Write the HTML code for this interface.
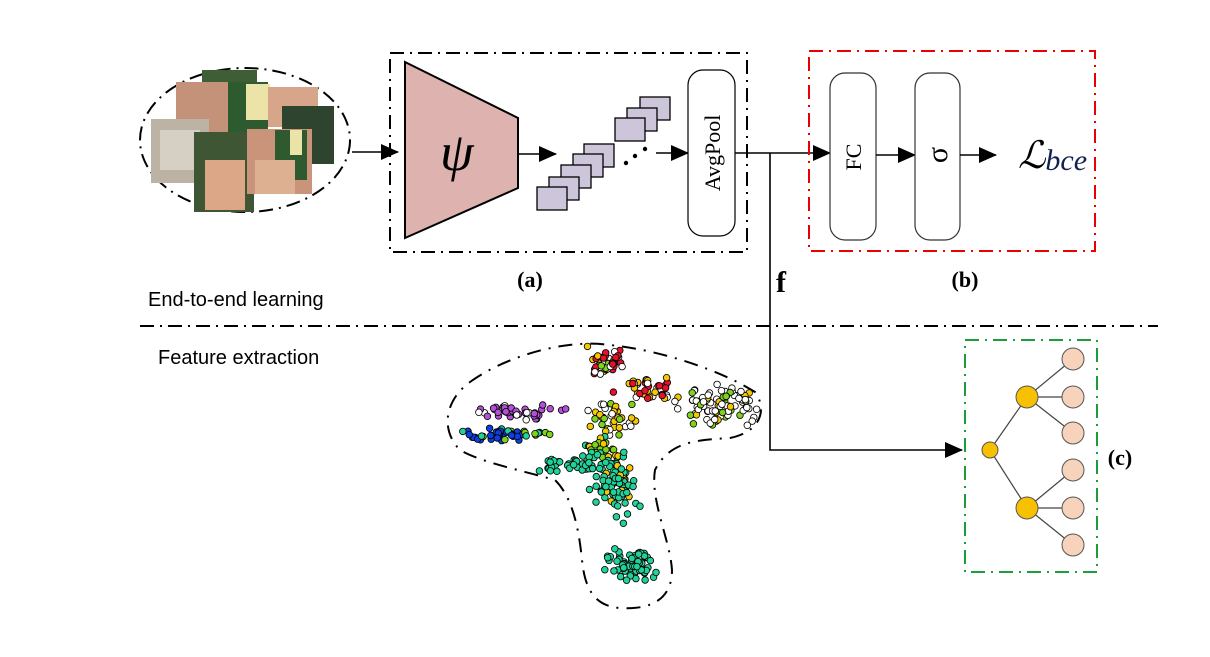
<!DOCTYPE html>
<html><head><meta charset="utf-8"><style>
html,body{margin:0;padding:0;background:#fff;}
svg{display:block;}
.sf{font-family:"Liberation Serif",serif;}
.ss{font-family:"Liberation Sans",sans-serif;}
</style></head><body>
<svg id="s" width="1210" height="657" viewBox="0 0 1210 657" xmlns="http://www.w3.org/2000/svg">
<defs>
<marker id="ar" markerWidth="18" markerHeight="16" refX="17" refY="8" orient="auto" markerUnits="userSpaceOnUse" viewBox="0 0 18 16">
<path d="M0,0 L18,8 L0,16 z" fill="#000"/></marker>
</defs>
<ellipse cx="245" cy="140" rx="105" ry="72" fill="none" stroke="#000" stroke-width="2" stroke-dasharray="14,6,2,6"/>
<rect x="202" y="70" width="55" height="70" fill="#3f5e38"/>
<rect x="176" y="82" width="60" height="55" fill="#c49179"/>
<rect x="228" y="82" width="40" height="50" fill="#2e5a2f"/>
<rect x="246" y="84" width="24" height="36" fill="#ece3a8"/>
<rect x="268" y="87" width="50" height="40" fill="#d6a58a"/>
<rect x="282" y="106" width="52" height="58" fill="#2e442f"/>
<rect x="151" y="119" width="58" height="64" fill="#bcb3a4"/>
<rect x="160" y="130" width="40" height="40" fill="#e0dcd2" opacity="0.7"/>
<rect x="194" y="132" width="60" height="80" fill="#3e5634"/>
<rect x="205" y="160" width="40" height="50" fill="#dba786"/>
<rect x="247" y="129" width="65" height="65" fill="#c9947a"/>
<rect x="275" y="130" width="32" height="50" fill="#2f5a2f"/>
<rect x="290" y="130" width="12" height="25" fill="#ece3a8"/>
<rect x="255" y="160" width="40" height="34" fill="#dcb091"/>
<line x1="352" y1="152" x2="398" y2="152" stroke="#000" stroke-width="1.6" marker-end="url(#ar)"/>
<rect x="390" y="53" width="357" height="199" fill="none" stroke="#000" stroke-width="2" stroke-dasharray="14,6,2,6"/>
<polygon points="405,62 518,118 518,188 405,238" fill="#deb3af" stroke="#000" stroke-width="2"/>
<text class="sf" x="440" y="170" font-size="54" font-style="italic">ψ</text>
<line x1="518" y1="154" x2="556" y2="154" stroke="#000" stroke-width="1.6" marker-end="url(#ar)"/>
<g fill="#cdc5da" stroke="#000" stroke-width="1.3">
<rect x="584" y="144" width="30" height="23"/>
<rect x="573" y="154" width="30" height="23"/>
<rect x="561" y="165" width="30" height="23"/>
<rect x="549" y="177" width="30" height="23"/>
<rect x="537" y="187" width="30" height="23"/>
<rect x="640" y="97" width="30" height="23"/>
<rect x="627" y="108" width="30" height="23"/>
<rect x="615" y="118" width="30" height="23"/>
</g>
<circle cx="626" cy="163" r="2.2"/><circle cx="635" cy="156" r="2.2"/><circle cx="645" cy="149" r="2.2"/>
<line x1="656" y1="153" x2="688" y2="153" stroke="#000" stroke-width="1.6" marker-end="url(#ar)"/>
<rect x="688" y="70" width="47" height="166" rx="15" fill="#fff" stroke="#000" stroke-width="1.2"/>
<text class="sf" transform="translate(720,153) rotate(-90)" font-size="22" text-anchor="middle">AvgPool</text>
<line x1="735" y1="153" x2="830" y2="153" stroke="#000" stroke-width="1.6" marker-end="url(#ar)"/>
<polyline points="770,153 770,450 962,450" fill="none" stroke="#000" stroke-width="1.6" marker-end="url(#ar)"/>
<rect x="809" y="51" width="286" height="200" fill="none" stroke="#e00" stroke-width="2" stroke-dasharray="14,6,2,6"/>
<rect x="830" y="73" width="46" height="167" rx="15" fill="#fff" stroke="#333" stroke-width="1.2"/>
<text class="sf" transform="translate(861,157) rotate(-90)" font-size="22" text-anchor="middle">FC</text>
<line x1="876" y1="155" x2="915" y2="155" stroke="#000" stroke-width="1.6" marker-end="url(#ar)"/>
<rect x="915" y="73" width="45" height="167" rx="15" fill="#fff" stroke="#333" stroke-width="1.2"/>
<text class="sf" transform="translate(947,155) rotate(-90)" font-size="30" text-anchor="middle">σ</text>
<line x1="960" y1="155" x2="996" y2="155" stroke="#000" stroke-width="1.6" marker-end="url(#ar)"/>
<text class="sf" x="1018" y="168" font-size="38" font-style="italic">ℒ<tspan font-size="30" dy="2" fill="#102050">bce</tspan></text>
<text class="sf" x="530" y="287" font-size="22" font-weight="bold" text-anchor="middle">(a)</text>
<text class="sf" x="965" y="287" font-size="22" font-weight="bold" text-anchor="middle">(b)</text>
<text class="sf" x="776" y="292" font-size="30" font-weight="bold">f</text>
<text class="ss" x="148" y="306" font-size="20">End-to-end learning</text>
<line x1="140" y1="326" x2="1158" y2="326" stroke="#000" stroke-width="2" stroke-dasharray="14,6,2,6"/>
<text class="ss" x="158" y="364" font-size="20">Feature extraction</text>
<path d="M470,382 C500,360 560,338 610,345 C660,350 720,370 755,392 C768,410 760,432 730,438 C700,440 670,440 655,470 C650,500 670,540 672,570 C672,600 650,610 620,608 C595,606 585,590 582,560 C578,520 570,495 555,480 C520,470 480,462 460,450 C440,430 445,400 470,382 Z" fill="none" stroke="#000" stroke-width="2" stroke-dasharray="14,8,2,8"/>
<g id="pts" stroke="#000" stroke-width="0.8"></g>
<rect x="965" y="340" width="132" height="232" fill="none" stroke="#1a9e3a" stroke-width="2" stroke-dasharray="14,6,2,6"/>
<g stroke="#444" stroke-width="1.2">
<line x1="990" y1="450" x2="1027" y2="397"/><line x1="990" y1="450" x2="1027" y2="508"/>
<line x1="1027" y1="397" x2="1073" y2="359"/><line x1="1027" y1="397" x2="1073" y2="397"/><line x1="1027" y1="397" x2="1073" y2="433"/>
<line x1="1027" y1="508" x2="1073" y2="470"/><line x1="1027" y1="508" x2="1073" y2="508"/><line x1="1027" y1="508" x2="1073" y2="545"/>
</g>
<g stroke="#555" stroke-width="1">
<circle cx="990" cy="450" r="8" fill="#f7c000"/>
<circle cx="1027" cy="397" r="11" fill="#f7c000"/><circle cx="1027" cy="508" r="11" fill="#f7c000"/>
<g fill="#f7d3bb"><circle cx="1073" cy="359" r="11"/><circle cx="1073" cy="397" r="11"/><circle cx="1073" cy="433" r="11"/><circle cx="1073" cy="470" r="11"/><circle cx="1073" cy="508" r="11"/><circle cx="1073" cy="545" r="11"/></g>
</g>
<text class="sf" x="1120" y="465" font-size="22" font-weight="bold" text-anchor="middle">(c)</text>
</svg>
<script>
(function(){
var g=document.getElementById('pts');var seed=7;
function r(){seed=(seed*16807)%2147483647;return seed/2147483647;}
function cl(cx,cy,sx,sy,n,cols){for(var i=0;i<n;i++){var c=document.createElementNS('http://www.w3.org/2000/svg','circle');
c.setAttribute('cx',(cx+(r()+r()+r()-1.5)*sx).toFixed(1));c.setAttribute('cy',(cy+(r()+r()+r()-1.5)*sy).toFixed(1));
c.setAttribute('r','3.3');c.setAttribute('fill',cols[Math.floor(r()*cols.length)]);g.appendChild(c);}}
var R='#e8102a',Y='#f5c800',W='#ffffff',G='#7fd31a',T='#1fd39a',P='#b450d8',B='#0d3fe0';
cl(605,362,14,12,45,[R,R,R,Y,G,W]);
cl(650,388,28,10,40,[Y,Y,W,R,W]);
cl(720,405,35,16,90,[W,W,W,W,Y,G]);
cl(515,412,38,6,45,[P,P,P,W]);
cl(500,434,42,6,50,[B,B,B,T,G]);
cl(612,420,22,16,40,[W,Y,Y,G,W]);
cl(600,447,14,10,30,[G,G,T,Y]);
cl(575,465,35,8,40,[T,T,T]);
cl(617,485,22,28,80,[T,T,T,T,Y]);
cl(630,565,22,16,70,[T,T,T]);
})();
</script>
</body></html>
